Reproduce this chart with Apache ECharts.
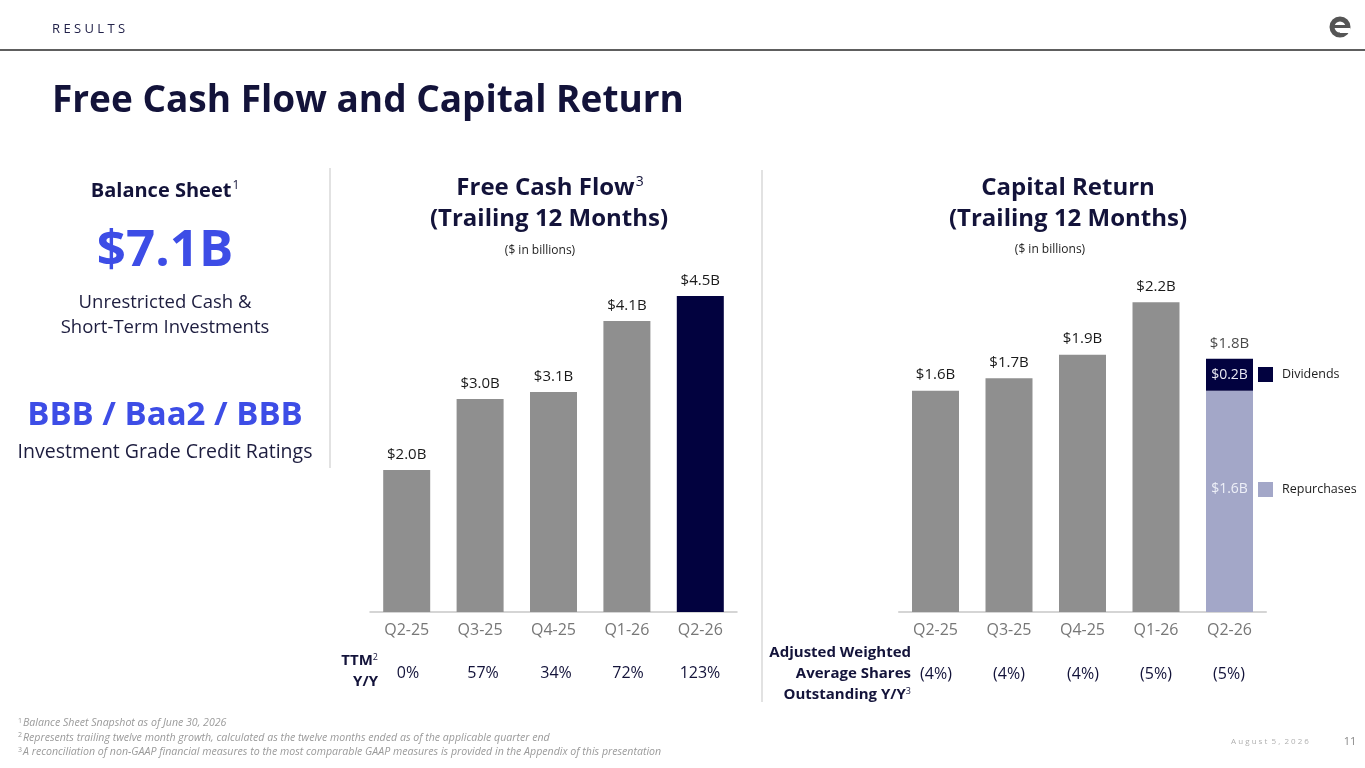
<!DOCTYPE html>
<html><head><meta charset="utf-8">
<script src="https://cdn.jsdelivr.net/npm/echarts@6/dist/echarts.min.js"></script>
<style>html,body{margin:0;padding:0;background:#fff}#c{width:1365px;height:768px}</style>
</head><body><div id="c"></div>
<script>
const quarters = ['Q2-25','Q3-25','Q4-25','Q1-26','Q2-26'];
const fcfValues = [2.0, 3.0, 3.1, 4.1, 4.45];
const fcfLabels = ['$2.0B','$3.0B','$3.1B','$4.1B','$4.5B'];
const fcfGrowth = ['0%','57%','34%','72%','123%'];
const capReturnTotal = [1.60, 1.69, 1.86, 2.24, '-'];
const capLabels = ['$1.6B','$1.7B','$1.9B','$2.2B','$1.8B'];
const repurchases = ['-','-','-','-',1.60];
const dividends = ['-','-','-','-',0.23];
const repLabel = '$1.6B';
const divLabel = '$0.2B';
const sharesGrowth = ['(4%)','(4%)','(4%)','(5%)','(5%)'];

const NAVY = '#13133a', BAR = '#8f8f8f', DARK = '#02023f', LIGHT = '#a3a7c8', BLUE = '#3d4de6';
const FONT = 'Open Sans';
const chart = echarts.init(document.getElementById('c'));

function txt(x, y, text, o) {
  return Object.assign({type:'text', x:x, y:y, style:Object.assign({text:text, fill:NAVY, font:'16px '+FONT, align:'left', verticalAlign:'middle'}, o||{})});
}
function rt(x, y, parts, align, o) {
  return {type:'text', x:x, y:y, style:Object.assign({text:parts.text, rich:parts.rich, fill:NAVY, align:align||'center', verticalAlign:'middle', fontFamily:FONT}, o||{})};
}
const g = [];
// header
g.push(txt(52, 29, 'R E S U L T S', {font:'13px '+FONT, fill:'#22224a'}));
g.push({type:'rect', shape:{x:0,y:49,width:1365,height:2}, style:{fill:'#5e5e5e'}});
g.push({type:'circle', shape:{cx:1340,cy:27,r:8}, style:{fill:'none', stroke:'#555', lineWidth:5}});
g.push({type:'rect', shape:{x:1334,y:25,width:12,height:3}, style:{fill:'#555'}});
g.push({type:'rect', shape:{x:1340,y:28,width:10,height:5}, style:{fill:'#fff'}});
g.push(txt(52, 101, 'Free Cash Flow and Capital Return', {font:'bold 37px '+FONT, fill:NAVY}));
// separators
g.push({type:'line', shape:{x1:330,y1:168,x2:330,y2:468}, style:{stroke:'#d9d9d9', lineWidth:1.5}});
g.push({type:'line', shape:{x1:762,y1:170,x2:762,y2:702}, style:{stroke:'#d9d9d9', lineWidth:1.5}});
// left panel
const supRich = (size, fs) => ({ m:{fontSize:size, fontWeight:'bold', fill:NAVY, fontFamily:FONT}, s:{fontSize:fs, fontWeight:'normal', fill:NAVY, fontFamily:FONT, verticalAlign:'top', padding:[0,0,size*0.5,1]} });
g.push(rt(165, 191, {text:'{m|Balance Sheet}{s|1}', rich:supRich(20,12)}));
g.push(txt(165, 251, '$7.1B', {font:'bold 51px '+FONT, fill:BLUE, align:'center'}));
g.push(txt(165, 303, 'Unrestricted Cash &', {font:'18.5px '+FONT, align:'center', fill:'#1d1d3f'}));
g.push(txt(165, 328, 'Short-Term Investments', {font:'18.5px '+FONT, align:'center', fill:'#1d1d3f'}));
g.push(txt(165, 416, 'BBB / Baa2 / BBB', {font:'bold 33px '+FONT, fill:BLUE, align:'center'}));
g.push(txt(165, 452, 'Investment Grade Credit Ratings', {font:'19.5px '+FONT, align:'center', fill:'#1d1d3f'}));
// chart titles
g.push(rt(550, 188, {text:'{m|Free Cash Flow}{s|3}', rich:supRich(24,14)}));
g.push(txt(549, 219, '(Trailing 12 Months)', {font:'bold 24px '+FONT, align:'center'}));
g.push(txt(540, 251, '($ in billions)', {font:'12px '+FONT, align:'center', fill:'#222'}));
g.push(txt(1068, 188, 'Capital Return', {font:'bold 24px '+FONT, align:'center'}));
g.push(txt(1068, 219, '(Trailing 12 Months)', {font:'bold 24px '+FONT, align:'center'}));
g.push(txt(1050, 250, '($ in billions)', {font:'12px '+FONT, align:'center', fill:'#222'}));
// rows under charts
g.push(rt(378, 661, {text:'{m|TTM}{s|2}', rich:{m:{fontSize:15,fontWeight:'bold',fill:NAVY,fontFamily:FONT}, s:{fontSize:9,fill:NAVY,fontFamily:FONT,verticalAlign:'top',padding:[0,0,7,0]}}}, 'right'));
g.push(txt(378, 682, 'Y/Y', {font:'bold 15px '+FONT, align:'right'}));
const fcfX = [408, 483, 556, 628, 700];
fcfGrowth.forEach((v,i)=>g.push(txt(fcfX[i], 673, v, {font:'16px '+FONT, align:'center'})));
g.push(txt(911, 653, 'Adjusted Weighted', {font:'bold 15px '+FONT, align:'right'}));
g.push(txt(911, 674, 'Average Shares', {font:'bold 15px '+FONT, align:'right'}));
g.push(rt(911, 695, {text:'{m|Outstanding Y/Y}{s|3}', rich:{m:{fontSize:15,fontWeight:'bold',fill:NAVY,fontFamily:FONT}, s:{fontSize:9,fill:NAVY,fontFamily:FONT,verticalAlign:'top',padding:[0,0,7,0]}}}, 'right'));
const capX = [936, 1009, 1083, 1156, 1229];
sharesGrowth.forEach((v,i)=>g.push(txt(capX[i], 674, v, {font:'16px '+FONT, align:'center'})));
// footnotes
const fn = [['1','Balance Sheet Snapshot as of June 30, 2026'],['2','Represents trailing twelve month growth, calculated as the twelve months ended as of the applicable quarter end'],['3','A reconciliation of non-GAAP financial measures to the most comparable GAAP measures is provided in the Appendix of this presentation']];
fn.forEach((f,i)=>g.push({type:'text', x:18, y:723+i*14.5, style:{text:'{s|'+f[0]+'}{m|'+f[1]+'}', rich:{s:{fontSize:7,fill:'#9a9a9a',fontFamily:FONT,verticalAlign:'top',padding:[0,1,5,0]}, m:{fontSize:10.6,fontStyle:'italic',fill:'#9a9a9a',fontFamily:FONT}}, verticalAlign:'middle', align:'left'}}));
g.push(txt(1270, 742, 'A u g u s t  5 ,  2 0 2 6', {font:'8px '+FONT, fill:'#b0b0b0', align:'center'}));
g.push(txt(1350, 742, '11', {font:'11px '+FONT, fill:'#888', align:'center'}));

const lblFmt = (arr) => (p) => arr[p.dataIndex];
const option = {
  animation:false,
  textStyle:{fontFamily:FONT},
  grid:[
    {left:370, top:257, width:367, height:355},
    {left:898.75, top:266.2, width:367.5, height:345.8}
  ],
  xAxis:[
    {type:'category', gridIndex:0, data:quarters, axisTick:{show:false}, axisLine:{lineStyle:{color:'#c8c8c8', width:1.5}}, axisLabel:{color:'#777', fontSize:16, margin:10, fontFamily:FONT}},
    {type:'category', gridIndex:1, data:quarters, axisTick:{show:false}, axisLine:{lineStyle:{color:'#c8c8c8', width:1.5}}, axisLabel:{color:'#777', fontSize:16, margin:10, fontFamily:FONT}}
  ],
  yAxis:[
    {type:'value', gridIndex:0, min:0, max:5, show:false},
    {type:'value', gridIndex:1, min:0, max:2.5, show:false}
  ],
  legend:[
    {data:['Dividends'], left:1258, top:367, padding:0, orient:'vertical', itemWidth:15, itemHeight:15, selectedMode:false, icon:'rect', textStyle:{color:'#222', fontSize:12.5, fontFamily:FONT, padding:[0,0,0,4]}},
    {data:['Repurchases'], left:1258, top:482, padding:0, orient:'vertical', itemWidth:15, itemHeight:15, selectedMode:false, icon:'rect', textStyle:{color:'#222', fontSize:12.5, fontFamily:FONT, padding:[0,0,0,4]}}
  ],
  series:[
    {name:'Free Cash Flow', type:'bar', xAxisIndex:0, yAxisIndex:0, barWidth:47,
      data: fcfValues.map((v,i)=> i===4 ? {value:v, itemStyle:{color:DARK}} : v),
      itemStyle:{color:BAR},
      label:{show:true, position:'top', distance:8, color:'#1a1a1a', fontSize:15, fontFamily:FONT, formatter:lblFmt(fcfLabels)}},
    {name:'Capital Return', type:'bar', xAxisIndex:1, yAxisIndex:1, barWidth:47, stack:'cr', data:capReturnTotal,
      itemStyle:{color:BAR},
      label:{show:true, position:'top', distance:8, color:'#1a1a1a', fontSize:15, fontFamily:FONT, formatter:lblFmt(capLabels)}},
    {name:'Repurchases', type:'bar', xAxisIndex:1, yAxisIndex:1, barWidth:47, stack:'cr', data:repurchases,
      itemStyle:{color:LIGHT},
      label:{show:true, position:'inside', offset:[0,-12], color:'#eef0f8', fontSize:14, fontFamily:FONT, formatter:()=>repLabel}},
    {name:'Dividends', type:'bar', xAxisIndex:1, yAxisIndex:1, barWidth:47, stack:'cr', data:dividends,
      itemStyle:{color:DARK},
      label:{show:true, position:'inside', color:'#e8e8f2', fontSize:14, fontFamily:FONT, formatter:()=>divLabel}},
    {name:'total', type:'scatter', xAxisIndex:1, yAxisIndex:1, symbolSize:0, silent:true,
      data: repurchases.map((v,i)=> v==='-' ? '-' : v + dividends[i]),
      label:{show:true, position:'top', distance:8, color:'#1a1a1a', fontSize:15, fontFamily:FONT, formatter:lblFmt(capLabels)}}
  ],
  graphic:{elements:g}
};
chart.setOption(option);
</script></body></html>
